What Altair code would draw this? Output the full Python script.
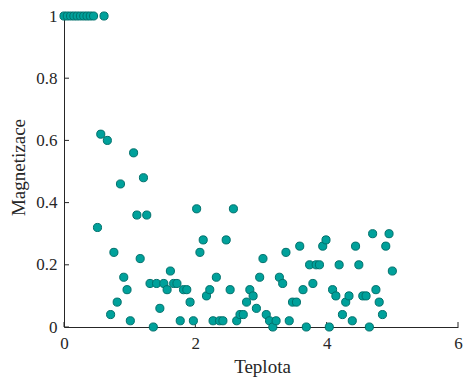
import altair as alt
import pandas as pd

# Temperature sweep and the measured magnetization at each step
teplota = [
    0.00, 0.05, 0.10, 0.15, 0.20, 0.25, 0.30, 0.35, 0.40, 0.45,
    0.51, 0.56, 0.61, 0.66, 0.71, 0.76, 0.81, 0.86, 0.91, 0.96,
    1.01, 1.06, 1.11, 1.16, 1.21, 1.26, 1.31, 1.36, 1.41, 1.46,
    1.52, 1.57, 1.62, 1.67, 1.72, 1.77, 1.82, 1.87, 1.92, 1.97,
    2.02, 2.07, 2.12, 2.17, 2.22, 2.27, 2.32, 2.37, 2.42, 2.47,
    2.53, 2.58, 2.63, 2.68, 2.73, 2.78, 2.83, 2.88, 2.93, 2.98,
    3.03, 3.08, 3.13, 3.18, 3.23, 3.28, 3.33, 3.38, 3.43, 3.48,
    3.54, 3.59, 3.64, 3.69, 3.74, 3.79, 3.84, 3.89, 3.94, 3.99,
    4.04, 4.09, 4.14, 4.19, 4.24, 4.29, 4.34, 4.39, 4.44, 4.49,
    4.55, 4.60, 4.65, 4.70, 4.75, 4.80, 4.85, 4.90, 4.95, 5.00,
]
magnetizace = [
    1, 1, 1, 1, 1, 1, 1, 1, 1, 1,
    0.32, 0.62, 1, 0.60, 0.04, 0.24, 0.08, 0.46, 0.16, 0.12,
    0.02, 0.56, 0.36, 0.22, 0.48, 0.36, 0.14, 0, 0.14, 0.06,
    0.14, 0.12, 0.18, 0.14, 0.14, 0.02, 0.12, 0.12, 0.08, 0.02,
    0.38, 0.24, 0.28, 0.10, 0.12, 0.02, 0.16, 0.02, 0.02, 0.28,
    0.12, 0.38, 0.02, 0.04, 0.04, 0.08, 0.12, 0.10, 0.06, 0.16,
    0.22, 0.04, 0.02, 0, 0.02, 0.16, 0.14, 0.24, 0.02, 0.08,
    0.08, 0.26, 0.12, 0, 0.20, 0.14, 0.20, 0.20, 0.26, 0.28,
    0, 0.12, 0.10, 0.20, 0.04, 0.08, 0.10, 0.02, 0.26, 0.20,
    0.10, 0.10, 0, 0.30, 0.12, 0.08, 0.04, 0.26, 0.30, 0.18,
]
x_ticks = [0, 2, 4, 6]
y_ticks = [0, 0.2, 0.4, 0.6, 0.8, 1]

FONT = "Liberation Serif"
INK = "#262626"

df = pd.DataFrame({"Teplota": teplota, "Magnetizace": magnetizace})
x_tick_df = pd.DataFrame({"Teplota": x_ticks})
y_tick_df = pd.DataFrame({"Magnetizace": y_ticks})

x_scale = alt.Scale(domain=[0, 6], nice=False, zero=False)
y_scale = alt.Scale(domain=[0, 1], nice=False)

x_axis = alt.Axis(
    values=x_ticks, title="Teplota", format="~g", grid=False, ticks=False,
    tickSize=0, labelPadding=8, labelFontSize=17, labelFont=FONT,
    labelColor=INK, titleFont=FONT, titleFontSize=19, titleFontWeight="normal",
    titleColor=INK, titleX=198, titleY=45, titleBaseline="alphabetic",
    domainColor=INK, labelFlush=False,
)
y_axis = alt.Axis(
    values=y_ticks, title="Magnetizace", format="~g", grid=False, ticks=False,
    tickSize=0, labelPadding=7, labelFontSize=17, labelFont=FONT,
    labelColor=INK, titleFont=FONT, titleFontSize=19, titleFontWeight="normal",
    titleColor=INK, titleX=-40, titleY=151, titleBaseline="alphabetic",
    domainColor=INK, labelFlush=False,
)

# Inward-pointing tick marks drawn as short rules
x_tick_marks = alt.Chart(x_tick_df).mark_rule(color=INK, strokeWidth=1).encode(
    x=alt.X("Teplota:Q", scale=x_scale, axis=x_axis),
    y=alt.value(311),
    y2=alt.value(306),
)
y_tick_marks = alt.Chart(y_tick_df).mark_rule(color=INK, strokeWidth=1).encode(
    y=alt.Y("Magnetizace:Q", scale=y_scale, axis=y_axis),
    x=alt.value(0),
    x2=alt.value(5),
)

points = alt.Chart(df).mark_circle(
    size=66, fill="#00A19B", stroke="#00706B", strokeWidth=1, opacity=1,
    fillOpacity=1,
).encode(
    x=alt.X("Teplota:Q", scale=x_scale, axis=x_axis),
    y=alt.Y("Magnetizace:Q", scale=y_scale, axis=y_axis),
)

chart = (
    alt.layer(x_tick_marks, y_tick_marks, points)
    .properties(
        width=394,
        height=311,
        autosize=alt.AutoSizeParams(type="none"),
        padding={"left": 64, "top": 16, "right": 6, "bottom": 50},
        background="white",
    )
    .configure_view(stroke=None)
    .configure_axis(labelFont=FONT, titleFont=FONT)
)

chart.save("out.html", embed_options={"renderer": "svg", "actions": False})
